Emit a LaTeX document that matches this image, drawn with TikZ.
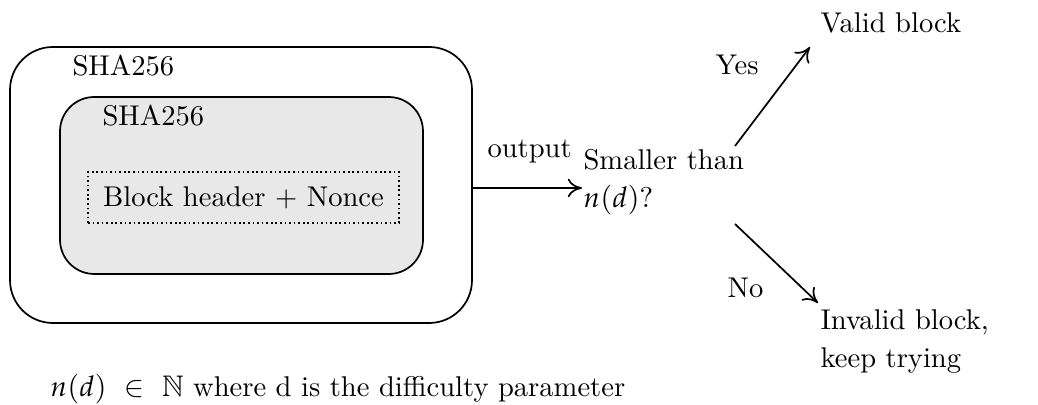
\documentclass[tikz,border=0pt]{standalone}
\usepackage[noBBpl]{mathpazo}
\usepackage{amssymb}
\usetikzlibrary{arrows.meta}
\definecolor{boxgray}{HTML}{E8E8E8}
\tikzset{
  lbl/.style={anchor=base west, inner sep=0pt, font=\fontsize{10}{13.3}\selectfont},
  arr/.style={-{To[length=5pt,width=6.5pt]}, line width=0.6pt},
  hashbox/.style={draw, line width=0.6pt, inner sep=0pt},
}
\begin{document}
\begin{tikzpicture}[x=0.35pt,y=-0.35pt]
\useasboundingbox (0,0) rectangle (1038,405);
% boxes
\node[hashbox, rounded corners=15pt, minimum width=161.7pt, minimum height=96.6pt] (outer) at (241,185) {};
\node[hashbox, rounded corners=12pt, fill=boxgray, minimum width=127.05pt, minimum height=61.95pt] (inner) at (241.5,185.5) {};
\node[lbl] (sha1) at (72,76) {SHA256};
\node[lbl] (sha2) at (102,126) {SHA256};
\node[draw, densely dotted, line width=0.6pt, inner sep=0pt, minimum width=108.85pt, minimum height=17.85pt, font=\fontsize{10}{13.3}\selectfont] (hdr) at (243.5,197.5) {Block header + Nonce\hspace{4pt}};
% decision
\node[lbl] (dec) at (583,170) {\vtop{\baselineskip=13.3pt\hbox{Smaller than}\hbox{$n(d)$?}}};
\node[lbl] (out) at (487,158) {output};
\draw[arr] ([yshift=-1.05pt]outer.east) -- ([yshift=-1.05pt,xshift=-0.35pt]outer.east -| dec.west);
% outcomes
\node[lbl] (valid) at (820,33) {Valid block};
\node[lbl] (invalid) at (820,330) {\vtop{\baselineskip=13.3pt\hbox{Invalid block,}\hbox{keep trying}}};
\node[lbl] (yes) at (715,75) {Yes};
\node[lbl] (no) at (727,298) {No};
\coordinate (ys) at (735,146);
\coordinate (ye) at (810,47);
\coordinate (ns) at (735,224);
\coordinate (ne) at (818,303);
\draw[arr] (ys) -- (ye);
\draw[arr] (ns) -- (ne);
% footnote
\node[lbl] (note) at (50,397) {$n(d)\ \in\ \mathbb{N}$ where d is the difficulty parameter};
\end{tikzpicture}
\end{document}
